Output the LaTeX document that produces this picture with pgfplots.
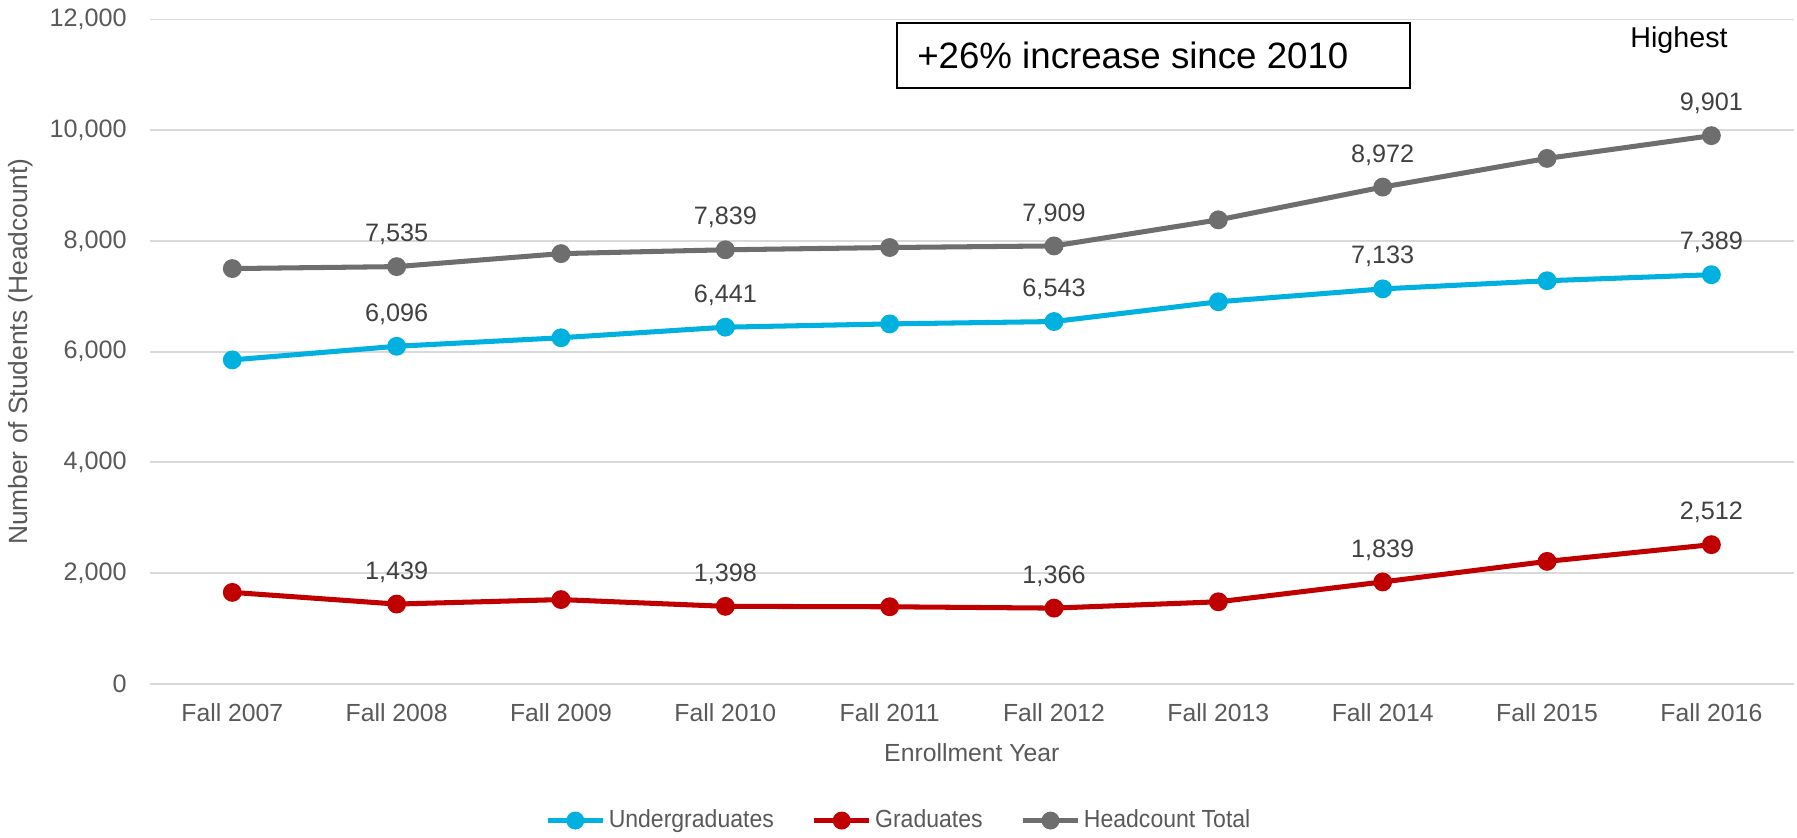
\documentclass[border=0pt]{standalone}
\usepackage{fontspec}
\setmainfont{Liberation Sans}
\newfontfamily\cond{Liberation Sans}[FakeStretch=0.93]
\usepackage{pgfplots}
\pgfplotsset{compat=1.18}

\definecolor{ugrad}{HTML}{00B0DF}
\definecolor{grad}{HTML}{C00000}
\definecolor{total}{HTML}{6E6E6E}
\definecolor{txt}{HTML}{595959}
\definecolor{lbl}{HTML}{404040}
\definecolor{gridc}{HTML}{D9D9D9}

\begin{document}
\begin{tikzpicture}
\begin{axis}[
    name=ax, at={(0,0)}, anchor=south west,
    scale only axis,
    width=717pt, height=289.8pt,
    xmin=-0.5, xmax=9.5,
    ymin=0, ymax=12000,
    xtick={0,...,9},
    xticklabels={Fall 2007,Fall 2008,Fall 2009,Fall 2010,Fall 2011,Fall 2012,Fall 2013,Fall 2014,Fall 2015,Fall 2016},
    ytick={0,2000,...,12000},
    scaled y ticks=false,
    /pgf/number format/1000 sep={,},
    /pgf/number format/assume math mode=true,
    yticklabel style={font=\fontsize{11}{13}\selectfont, text=txt, anchor=east, inner sep=0pt, xshift=-10pt},
    xticklabel style={font=\fontsize{10.8}{13}\selectfont, text=txt, anchor=center, inner sep=0pt, yshift=-12.75pt},
    ymajorgrids, grid style={gridc, line width=0.8pt},
    axis line style={draw=none},
    tick style={draw=none},
    xlabel={Enrollment Year},
    xlabel style={font=\fontsize{10.8}{13}\selectfont, text=txt, at={(axis description cs:0.5,-0.1044)}, anchor=center, inner sep=0pt},
    ylabel={Number of Students (Headcount)},
    ylabel style={font=\fontsize{11.5}{13}\selectfont, text=txt, at={(axis description cs:-0.0788,0.5)}, anchor=center, inner sep=0pt},
    clip=false,
    point meta=explicit symbolic,
    nodes near coords,
    every node near coord/.style={font=\fontsize{11}{13}\selectfont, text=lbl, anchor=center, yshift=14pt, inner sep=0pt},
    legend columns=3,
    legend style={at={(0.456,-0.206)}, anchor=center, draw=none, fill=none,
        font=\cond\fontsize{10.8}{12}\selectfont, text=txt,
        /tikz/every even column/.append style={column sep=15pt},
        nodes={inner xsep=1.5pt}},
    legend image code/.code={\draw[mark repeat=2, mark phase=2, mark size=2.8pt] plot coordinates {(0pt,0pt) (12pt,0pt) (24pt,0pt)};},
]
\addplot[ugrad, line width=2.2pt, mark=*, mark size=3pt, mark options={solid}] coordinates {
    (0,5850) [{}]
    (1,6096) [{6,096}]
    (2,6250) [{}]
    (3,6441) [{6,441}]
    (4,6500) [{}]
    (5,6543) [{6,543}]
    (6,6900) [{}]
    (7,7133) [{7,133}]
    (8,7280) [{}]
    (9,7389) [{7,389}]
};
\addlegendentry{Undergraduates}
\addplot[grad, line width=2.2pt, mark=*, mark size=3pt, mark options={solid}] coordinates {
    (0,1650) [{}]
    (1,1439) [{1,439}]
    (2,1520) [{}]
    (3,1398) [{1,398}]
    (4,1390) [{}]
    (5,1366) [{1,366}]
    (6,1480) [{}]
    (7,1839) [{1,839}]
    (8,2210) [{}]
    (9,2512) [{2,512}]
};
\addlegendentry{Graduates}
\addplot[total, line width=2.2pt, mark=*, mark size=3pt, mark options={solid}] coordinates {
    (0,7500) [{}]
    (1,7535) [{7,535}]
    (2,7770) [{}]
    (3,7839) [{7,839}]
    (4,7880) [{}]
    (5,7909) [{7,909}]
    (6,8380) [{}]
    (7,8972) [{8,972}]
    (8,9490) [{}]
    (9,9901) [{9,901}]
};
\addlegendentry{Headcount Total}
\draw[black, line width=0.9pt, fill=white] (rel axis cs:0.4547,0.9947) rectangle (rel axis cs:0.7664,0.8963);
\node[anchor=west, font=\fontsize{16}{18}\selectfont, text=black, inner sep=0pt] at (rel axis cs:0.4665,0.9455) {+26\% increase since 2010};
\node[anchor=center, font=\fontsize{12.5}{14}\selectfont, text=black, inner sep=0pt] at (rel axis cs:0.9303,0.9688) {Highest};
\end{axis}
\pgfresetboundingbox
\path[use as bounding box] (-65.5pt,-67.25pt) rectangle (718.5pt,298.3pt);
\end{tikzpicture}
\end{document}
